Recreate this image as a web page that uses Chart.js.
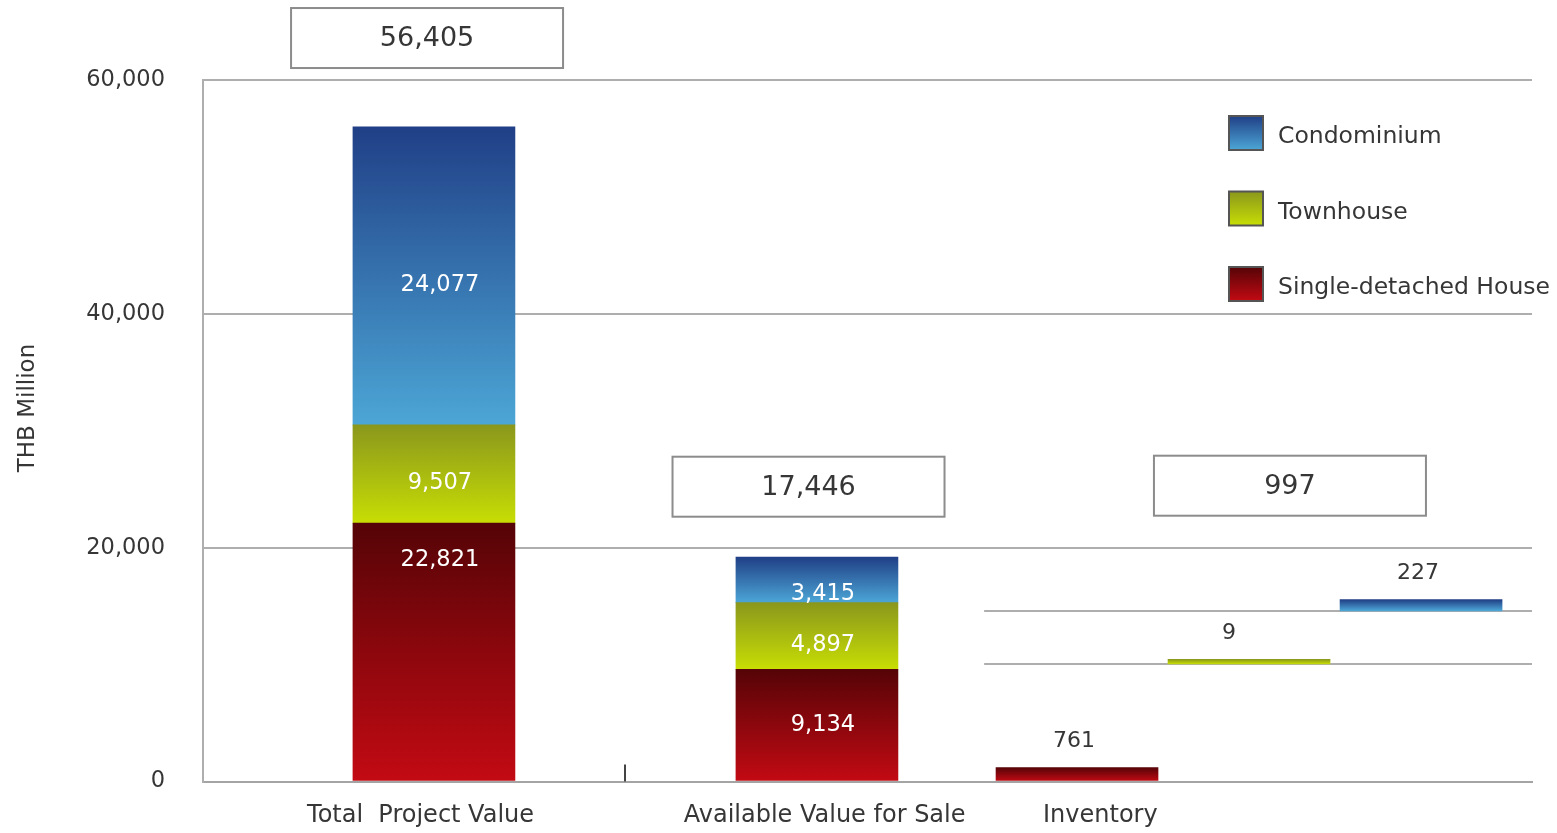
<!DOCTYPE html>
<html>
<head>
<meta charset="utf-8">
<title>Project value breakdown</title>
<script src="https://cdn.jsdelivr.net/npm/chart.js@4/dist/chart.umd.min.js"></script>
<style>
    html, body { margin: 0; padding: 0; background: #fff; }
    #wrap { width: 1557px; height: 833px; position: relative; }
</style>
</head>
<body>
<div id="wrap"><canvas id="valueChart"></canvas></div>
<script>
// --- data (THB million) ---
const categories = ['Total  Project Value', 'Available Value for Sale', 'Inventory'];
const singleDetached = [22100, 9600];
const townhouse = [8400, 5700];
const condominium = [25500, 3900];
const singleDetachedLabels = ['22,821', '9,134'];
const townhouseLabels = ['9,507', '4,897'];
const condominiumLabels = ['24,077', '3,415'];
// inventory split drawn as floating bars: single-detached, townhouse, condominium
const inventoryRanges = [[0, 1200], [10050, 10450], [14600, 15550]];
const inventoryLabels = ['761', '9', '227'];
const totalLabels = ['56,405', '17,446', '997'];
const yTicks = [0, 20000, 40000, 60000];

const seriesNames = ['Single-detached House', 'Townhouse', 'Condominium'];
const series = [singleDetached, townhouse, condominium];
const seriesLabels = [singleDetachedLabels, townhouseLabels, condominiumLabels];
const gradients = [
    ['#550407', '#c30a13'],
    ['#8a971c', '#c8de04'],
    ['#203f86', '#4ca6d6']
];

const FONT = "'DejaVu Sans', 'Verdana', sans-serif";
const TEXT = '#363636';
const GRID = '#aeaeae';

Chart.defaults.font.family = FONT;
Chart.defaults.color = TEXT;

// bottom / top of a stacked segment
function segmentRange(s, i) {
    let lo = 0;
    for (let k = 0; k < s; k++) lo += series[k][i];
    return [lo, lo + series[s][i]];
}

function vGradient(chart, stops, lo, hi) {
    const y = chart.scales.y;
    if (!y) return stops[1];
    const yHi = y.getPixelForValue(hi);
    const yLo = y.getPixelForValue(lo);
    if (!Number.isFinite(yHi) || !Number.isFinite(yLo) || yHi === yLo) return stops[1];
    const g = chart.ctx.createLinearGradient(0, yHi, 0, yLo);
    g.addColorStop(0, stops[0]);
    g.addColorStop(1, stops[1]);
    return g;
}

const mainDatasets = series.map((values, s) => ({
    label: seriesNames[s],
    data: values.map((v, i) => ({ x: i, y: v })),
    stack: 'all',
    grouped: false,
    xAxisID: 'x',
    barThickness: 162,
    backgroundColor: ctx => {
        if (ctx.type !== 'data') return gradients[s][1];
        const r = segmentRange(s, ctx.dataIndex);
        return vGradient(ctx.chart, gradients[s], r[0], r[1]);
    }
}));

const inventoryDataset = {
    label: 'Inventory',
    data: inventoryRanges.map((r, i) => ({ x: i, y: r })),
    stack: 'inv',
    grouped: false,
    xAxisID: 'xInv',
    barThickness: 162,
    backgroundColor: ctx => {
        if (ctx.type !== 'data') return gradients[0][1];
        const r = inventoryRanges[ctx.dataIndex];
        return vGradient(ctx.chart, gradients[ctx.dataIndex], r[0], r[1]);
    }
};

// where the x labels and the total boxes sit (axis units)
const labelAt = [-0.035, 1.02, 1.74];
const boxAt = [
    { x: -0.018, y: 63590 },
    { x: 0.978, y: 25214 },
    { x: 2.235, y: 25300 }
];
const labelNudge = { '0-0': -101, '0-1': -9, '2-1': 5 }; // 22,821 sits near the top of its block

const overlay = {
    id: 'overlay',
    beforeDatasetsDraw(chart) {
        const { ctx, chartArea, scales } = chart;
        ctx.save();
        // base lines under the floating inventory bars
        ctx.strokeStyle = GRID;
        ctx.lineWidth = 2;
        [1, 2].forEach(i => {
            const y = Math.round(scales.y.getPixelForValue(inventoryRanges[i][0]));
            ctx.beginPath();
            ctx.moveTo(scales.xInv.getPixelForValue(-0.54), y);
            ctx.lineTo(chartArea.right, y);
            ctx.stroke();
        });
        // little divider tick between the first two columns
        const tx = Math.round(scales.x.getPixelForValue(0.5));
        ctx.strokeStyle = '#444';
        ctx.beginPath();
        ctx.moveTo(tx, chartArea.bottom - 17);
        ctx.lineTo(tx, chartArea.bottom);
        ctx.stroke();
        ctx.restore();
    },
    afterDatasetsDraw(chart) {
        const { ctx, chartArea, scales } = chart;
        ctx.save();
        ctx.textAlign = 'center';
        ctx.textBaseline = 'middle';

        // values inside the stacked segments
        ctx.font = '22.5px ' + FONT;
        ctx.fillStyle = '#ffffff';
        series.forEach((values, s) => {
            values.forEach((v, i) => {
                const r = segmentRange(s, i);
                const yTop = scales.y.getPixelForValue(r[1]);
                const yBot = scales.y.getPixelForValue(r[0]);
                const nudge = labelNudge[s + '-' + i] || 0;
                ctx.fillText(seriesLabels[s][i], scales.x.getPixelForValue(i) + 6, (yTop + yBot) / 2 + 9 + nudge);
            });
        });

        // values above the inventory bars
        ctx.font = '22px ' + FONT;
        ctx.fillStyle = TEXT;
        inventoryRanges.forEach((r, i) => {
            const y = scales.y.getPixelForValue(r[1]) - 26;
            ctx.fillText(inventoryLabels[i], scales.xInv.getPixelForValue(i) - (i === 1 ? 20 : 3), y);
        });

        // boxed totals
        ctx.font = '27px ' + FONT;
        totalLabels.forEach((t, i) => {
            const cx = scales.x.getPixelForValue(boxAt[i].x);
            const cy = scales.y.getPixelForValue(boxAt[i].y);
            ctx.fillStyle = '#ffffff';
            ctx.fillRect(cx - 136, cy - 30, 272, 60);
            ctx.strokeStyle = '#8c8c8c';
            ctx.lineWidth = 2;
            ctx.strokeRect(cx - 136, cy - 30, 272, 60);
            ctx.fillStyle = TEXT;
            ctx.fillText(t, cx, cy + 1);
        });

        // legend, inside the plot at the upper right
        ctx.font = '23.5px ' + FONT;
        ctx.textAlign = 'left';
        const lx = chartArea.right - 303;
        [2, 1, 0].forEach((s, row) => {
            const top = chartArea.top + 36 + row * 75.5;
            const g = ctx.createLinearGradient(0, top, 0, top + 34);
            g.addColorStop(0, gradients[s][0]);
            g.addColorStop(1, gradients[s][1]);
            ctx.fillStyle = g;
            ctx.fillRect(lx, top, 34, 34);
            ctx.strokeStyle = '#555';
            ctx.lineWidth = 2;
            ctx.strokeRect(lx, top, 34, 34);
            ctx.fillStyle = TEXT;
            ctx.fillText(seriesNames[s], lx + 49, top + 21);
        });

        // y axis title
        ctx.translate(28, chartArea.top + 328);
        ctx.rotate(-Math.PI / 2);
        ctx.textAlign = 'center';
        ctx.font = '23px ' + FONT;
        ctx.fillText('THB Million', 0, 0);
        ctx.restore();
    }
};

new Chart(document.getElementById('valueChart').getContext('2d'), {
    type: 'bar',
    data: { datasets: [...mainDatasets, inventoryDataset] },
    options: {
        responsive: true,
        maintainAspectRatio: false,
        animation: false,
        layout: { padding: { top: 80, right: 25, left: 0, bottom: 0 } },
        plugins: { legend: { display: false }, tooltip: { enabled: false } },
        scales: {
            x: {
                type: 'linear',
                offset: false,
                min: -0.603,
                max: 2.867,
                grid: { display: false, drawTicks: false, offset: false },
                border: { display: true, color: '#a4a4a4', width: 2 },
                afterBuildTicks: axis => { axis.ticks = labelAt.map(v => ({ value: v })); },
                afterFit: axis => { axis.height = 51; },
                ticks: {
                    autoSkip: false,
                    maxRotation: 0,
                    padding: 20,
                    color: TEXT,
                    font: { size: 24 },
                    callback: (value, index) => categories[index]
                }
            },
            xInv: {
                type: 'linear',
                axis: 'x',
                offset: false,
                display: false,
                min: -5.081,
                max: 2.645,
                grid: { offset: false }
            },
            y: {
                stacked: true,
                min: 0,
                max: 60000,
                afterBuildTicks: axis => { axis.ticks = yTicks.map(v => ({ value: v })); },
                afterFit: axis => { axis.width = 203; },
                grid: { color: GRID, lineWidth: 2, drawTicks: false },
                border: { display: true, color: GRID, width: 2 },
                ticks: {
                    padding: 38,
                    color: TEXT,
                    font: { size: 22.5 },
                    callback: v => v.toLocaleString('en-US')
                }
            }
        }
    },
    plugins: [overlay]
});
</script>
</body>
</html>
